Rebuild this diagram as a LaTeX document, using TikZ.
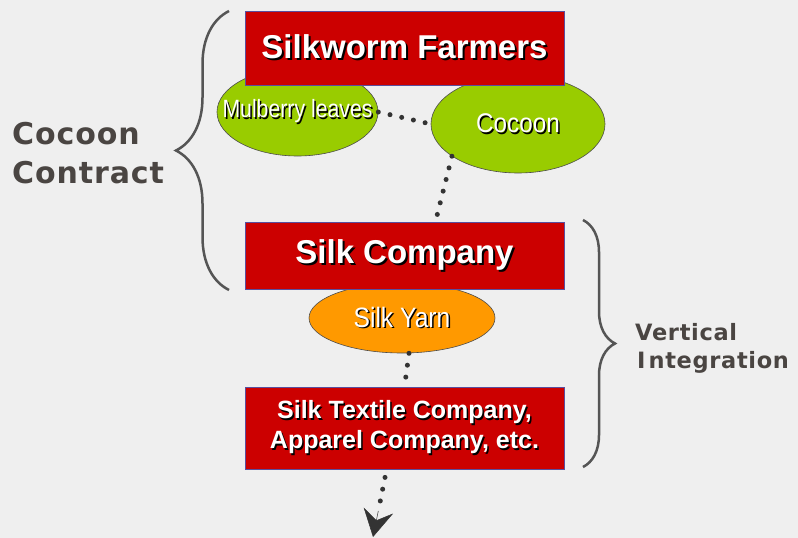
\documentclass[tikz,border=0pt]{standalone}
\usepackage{fontspec}
\setmainfont{Liberation Sans}
\newfontfamily\narrowfont{Liberation Sans}
\newfontfamily\labelfont[LetterSpace=3]{DejaVu Sans}
\usetikzlibrary{shapes.geometric,decorations.pathreplacing,arrows.meta}

\definecolor{boxred}{HTML}{CC0000}
\definecolor{boxborder}{HTML}{5A4E9E}
\definecolor{leafgreen}{HTML}{99CC00}
\definecolor{yarnorange}{HTML}{FF9900}
\definecolor{bracegray}{HTML}{555555}
\definecolor{labelgray}{HTML}{4A4542}
\definecolor{dotgray}{HTML}{333333}
\definecolor{paper}{HTML}{EFEFEF}

% white text with a dark drop shadow
\newcommand{\shtext}[2][1.5pt]{\leavevmode\rlap{\kern#1\raisebox{-#1}{\color{black}#2}}{\color{white}#2}}
% narrow text set without width, so the ellipse keeps its own size
\newcommand{\bubtext}[3]{\makebox[0pt]{\fontsize{#1}{#1}\addfontfeatures{FakeStretch=#2}\selectfont\shtext{#3}}}

\tikzset{
  redbox/.style={rectangle, draw=boxborder, line width=0.8pt, fill=boxred,
    minimum width=319pt, inner sep=0pt, align=center},
  bubble/.style={ellipse, draw=black!70, line width=0.6pt, inner sep=0pt, font=\narrowfont},
  dots/.style={dotgray, line width=5pt, line cap=round, dash pattern=on 0pt off 12pt},
  bracket/.style={bracegray, line width=2.5pt, decorate, decoration={brace, amplitude=#1}},
  sidelabel/.style={labelgray, anchor=base west, inner sep=0pt}
}

\begin{document}
\begin{tikzpicture}[x=1pt, y=-1pt]
  \fill[paper] (0,0) rectangle (798,538);
  \useasboundingbox (0,0) rectangle (798,538);

  % products
  \node[bubble, fill=leafgreen, minimum width=161pt, minimum height=88pt] (leaves) at (297.5,112)
    {\bubtext{25}{0.85}{Mulberry leaves}};
  \node[bubble, fill=leafgreen, minimum width=174pt, minimum height=98pt] (cocoon) at (518,124)
    {\bubtext{27}{0.9}{Cocoon}};
  \node[bubble, fill=yarnorange, minimum width=186pt, minimum height=70pt] (yarn) at (402,318)
    {\bubtext{28}{0.88}{Silk Yarn}};

  % actors
  \node[redbox, minimum height=74pt, font=\bfseries\fontsize{33}{38}\selectfont] (farmers) at (404.5,48)
    {\raisebox{-2pt}{\shtext[2pt]{Silkworm Farmers}}};
  \node[redbox, minimum height=67pt, font=\bfseries\fontsize{33}{38}\selectfont] (company) at (404.5,255.5)
    {\raisebox{-2pt}{\shtext[2pt]{Silk Company}}};
  \node[redbox, minimum height=82pt, font=\bfseries\fontsize{25}{30}\selectfont] (textile) at (404.5,428)
    {\shtext{Silk Textile Company,}\\ \shtext{Apparel Company, etc.}};

  % dotted flow
  \draw[dots] (leaves.east) -- (cocoon.west);
  \draw[dots] (cocoon.206) -- ([xshift=31pt]company.north);
  \draw[dots] ([xshift=7pt]yarn.south) -- (textile.north);

  \coordinate (tipbase) at (378.3,511);
  \coordinate (down) at (373,537);
  \draw[dots] ([xshift=-19.5pt, yshift=-8pt]textile.south) -- (tipbase);
  \draw[dotgray, line width=0.5pt, -{Stealth[length=27pt, width=30pt, inset=10pt]}] (tipbase) -- (down);

  % braces
  \coordinate (lbot) at (229,290);
  \coordinate (ltop) at (229,11);
  \draw[bracket=53pt] (lbot) -- (ltop);
  \coordinate (rtop) at (583,220);
  \coordinate (rbot) at (583,467);
  \draw[bracket=32pt] (rtop) -- (rbot);

  \node[sidelabel, font=\labelfont\bfseries\fontsize{30}{36}\selectfont] (contract1) at (12,144) {Cocoon};
  \node[sidelabel, font=\labelfont\bfseries\fontsize{30}{36}\selectfont] (contract2) at (12,183) {Contract};
  \node[sidelabel, font=\labelfont\bfseries\fontsize{22.5}{26}\selectfont] (vertical1) at (635,340) {Vertical};
  \node[sidelabel, font=\labelfont\bfseries\fontsize{22.5}{26}\selectfont] (vertical2) at (637,368) {I\kern3pt ntegration};
\end{tikzpicture}
\end{document}
